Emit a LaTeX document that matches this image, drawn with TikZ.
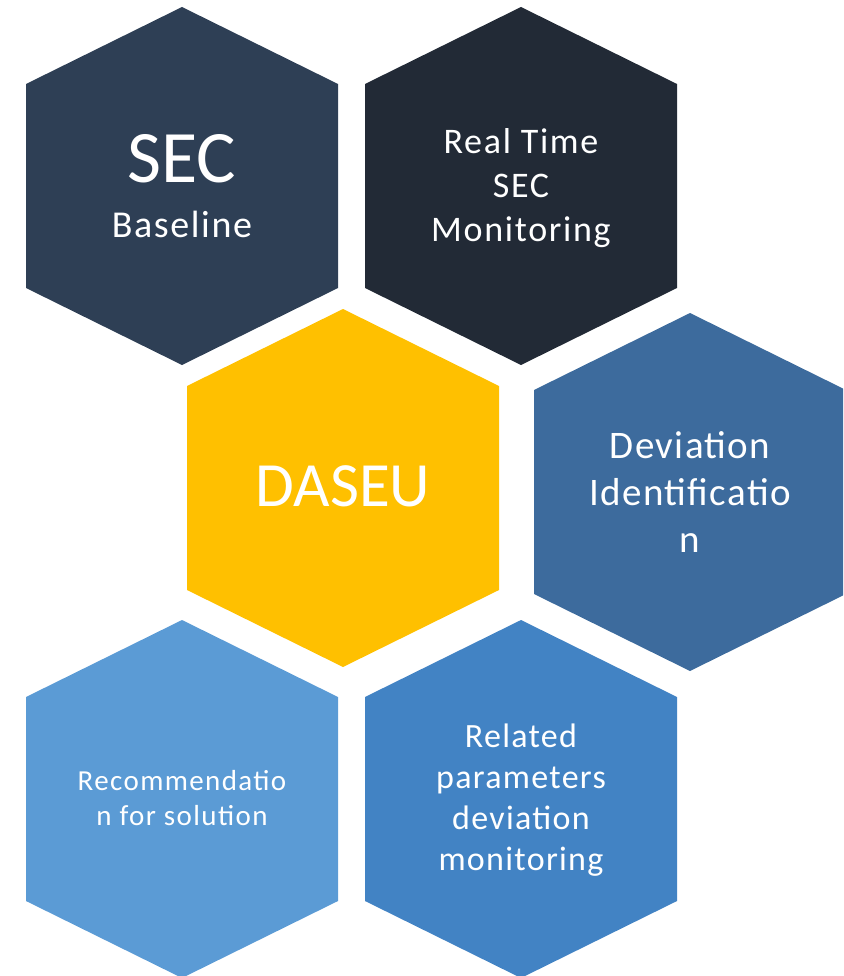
\documentclass[tikz,border=0pt]{standalone}
\usepackage{fontspec}
\setmainfont{Carlito}
\usetikzlibrary{positioning}
\definecolor{Slate}{HTML}{2E3F55}
\definecolor{Night}{HTML}{222A36}
\definecolor{Amber}{HTML}{FFC000}
\definecolor{Steel}{HTML}{3D6B9D}
\definecolor{Sky}{HTML}{5B9BD5}
\definecolor{Azure}{HTML}{4283C4}
\tikzset{
  cell/.style={fill=#1,draw=none},
  txt/.style={text=white,align=center,inner sep=0pt},
  spaced/.style={execute at begin node=\addfontfeatures{LetterSpace=#1}}
}

\begin{document}
\begin{tikzpicture}[x=1pt,y=-1pt]
  \useasboundingbox (0,0) rectangle (843,976);
  \clip (0,0) rectangle (843,976);
  % honeycomb: top corner of each cell and its fill
  \foreach \cx/\cy/\col in {182/7/Slate,521/7/Night,343/309/Amber,690/313/Steel,182/620/Sky,521/620/Azure}
    \fill[cell=\col] (\cx,\cy) -- ++(156,77) -- ++(0,204) -- ++(-156,77) -- ++(-156,-77) -- ++(0,-204) -- cycle;
  \node[txt,font=\fontsize{38}{46}\selectfont] (sec) at (182,186.5) {{\fontsize{74}{80}\selectfont SEC}\\[9pt]{\addfontfeatures{LetterSpace=4.2}Baseline}};
  \node[txt,spaced=4.7,font=\fontsize{36}{44}\selectfont] (rt) at (521,188.5) {Real Time\\SEC\\Monitoring};
  \node[txt,font=\fontsize{63}{76}\selectfont] (daseu) at (343,486) {DASEU};
  \node[txt,spaced=3.6,font=\fontsize{39}{47}\selectfont] (dev) at (690,492) {Deviation\\Identificatio\\n};
  \node[txt,spaced=4.8,font=\fontsize{29}{35}\selectfont] (rec) at (182,798.5) {Recommendatio\\n for solution};
  \node[txt,spaced=3.8,font=\fontsize{34}{41}\selectfont] (rel) at (521,800.5) {Related\\parameters\\deviation\\monitoring};
\end{tikzpicture}
\end{document}
